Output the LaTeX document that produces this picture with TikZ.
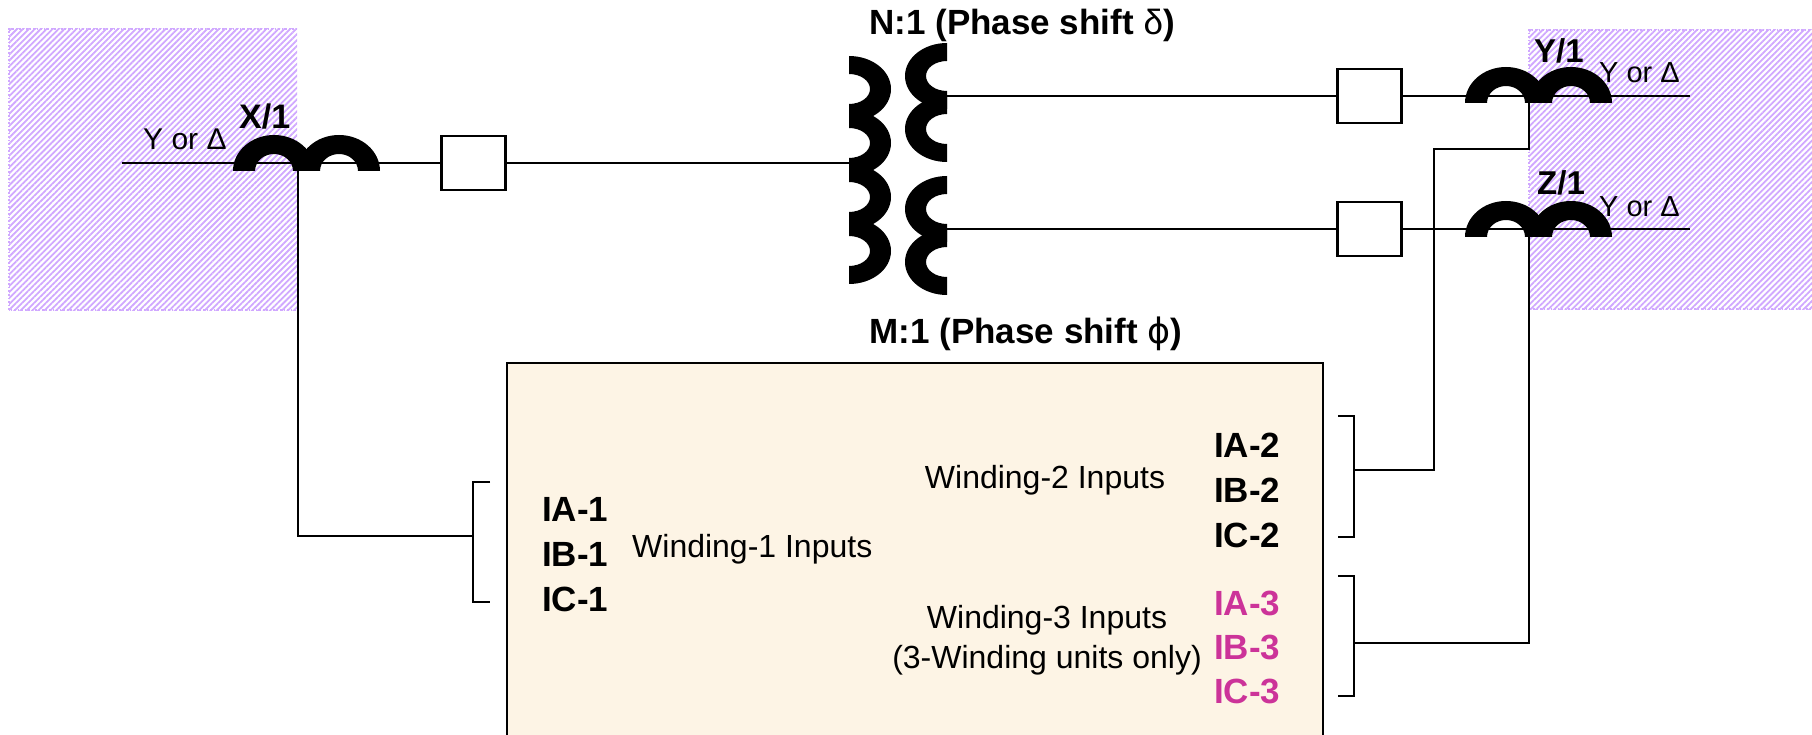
\documentclass[tikz,border=0pt]{standalone}
\usepackage{fontspec}
\setmainfont{Liberation Sans}
\newfontfamily\dejavu{DejaVu Sans}
\usetikzlibrary{patterns.meta}

\definecolor{hatchc}{RGB}{208,168,255}
\definecolor{cream}{RGB}{253,244,229}
\definecolor{mag}{RGB}{204,51,153}

\tikzset{
  wire/.style={line width=2.2pt},
  brk/.style={draw, line width=2.2pt, fill=white, minimum width=64pt, minimum height=54pt, inner sep=0pt},
  lbl/.style={inner sep=0pt, anchor=base west},
  ctlbl/.style={lbl, font=\fontsize{34}{40}\selectfont\bfseries},
  yd/.style={lbl, font=\fontsize{30}{36}\selectfont},
  inp/.style={lbl, font=\fontsize{35}{42}\selectfont\bfseries},
  wtxt/.style={inner sep=0pt, font=\fontsize{32}{38}\selectfont},
  ttl/.style={inner sep=0pt, anchor=base, font=\fontsize{35}{42}\selectfont\bfseries},
  hatch/.style={pattern={Lines[angle=45,distance=4.2pt,line width=1.8pt]}, pattern color=hatchc},
  hatchedge/.style={draw=hatchc, line width=1.5pt, dotted},
  ct/.pic={
    \foreach \c in {0,65}{
      \fill (\c-41,0) arc[start angle=180,end angle=0,x radius=41,y radius=36]
        -- (\c+19,0) arc[start angle=0,end angle=180,x radius=19,y radius=17] -- cycle;
    }
  },
  phump/.pic={
    \fill (0,33) arc[start angle=90,end angle=-90,x radius=42,y radius=33]
      -- (0,-15) arc[start angle=-90,end angle=90,x radius=21,y radius=15] -- cycle;
  },
  shump/.pic={
    \fill (0,33) arc[start angle=90,end angle=270,x radius=42,y radius=33]
      -- (0,-15) arc[start angle=270,end angle=90,x radius=21,y radius=15] -- cycle;
  }
}

\begin{document}
\begin{tikzpicture}[x=1pt,y=1pt]
\useasboundingbox (0,0) rectangle (1812,-735);
\clip (0,0) rectangle (1812,-735);

% hatched zones
\fill[hatch] (9,-29) rectangle (297,-310);
\draw[hatchedge] (297,-29) -- (9,-29) -- (9,-310) -- (297,-310);
\fill[hatch] (1529,-30) rectangle (1820,-309);
\draw[hatchedge] (1820,-30) -- (1529,-30) -- (1529,-309) -- (1820,-309);

% relay box
\node[draw, line width=2.4pt, fill=cream, anchor=north west, minimum width=816pt, minimum height=400pt, inner sep=0pt] (relay) at (506,-362) {};

% coordinates
\coordinate (lx) at (122,-163);
\coordinate (prim) at (849,-163);
\coordinate (s1) at (947,-96);
\coordinate (s2) at (947,-229);
\coordinate (ry) at (1690,-96);
\coordinate (rz) at (1690,-229);
\coordinate (ctx) at (298,-171);
\coordinate (cty) at (1529,-103);
\coordinate (ctz) at (1529,-237);
\coordinate (jy) at (1434,-149);
\coordinate (br1) at (473,-536);
\coordinate (br2) at (1354,-470);
\coordinate (br3) at (1354,-643);

% breakers
\node[brk] (b1) at (473.5,-163) {};
\node[brk] (b2) at (1369.5,-96) {};
\node[brk] (b3) at (1369.5,-229) {};

% main wires
\draw[wire] (lx) -- (b1.west);
\draw[wire] (b1.east) -- (prim);
\draw[wire] (s1) -- (b2.west);
\draw[wire] (b2.east) -- (ry);
\draw[wire] (s2) -- (b3.west);
\draw[wire] (b3.east) -- (rz);

% CT secondary wiring
\draw[wire] (ctx) |- (br1);
\draw[wire] (cty) |- (jy) |- (br2);
\draw[wire] (ctz) |- (br3);

% brackets
\draw[wire] (490,-482) -- (473,-482) -- (473,-602) -- (490,-602);
\draw[wire] (1338,-416) -- (1354,-416) -- (1354,-537) -- (1338,-537);
\draw[wire] (1338,-576) -- (1354,-576) -- (1354,-696) -- (1338,-696);

% CTs
\pic at (274,-171) {ct};
\pic at (1506,-103) {ct};
\pic at (1506,-237) {ct};

% transformer
\pic at (849,-89) {phump};
\pic at (849,-143) {phump};
\pic at (849,-197) {phump};
\pic at (849,-251) {phump};
\pic at (947,-76) {shump};
\pic at (947,-129) {shump};
\pic at (947,-209) {shump};
\pic at (947,-262) {shump};

% labels
\node[yd] (ydx) at (143,-150) {Y or Δ};
\node[ctlbl] (lx1) at (239,-129) {X/1};
\node[ctlbl, font=\fontsize{33}{40}\selectfont\bfseries] (ly1) at (1534,-63) {Y/1};
\node[ctlbl, font=\fontsize{33}{40}\selectfont\bfseries] (lz1) at (1537,-195) {Z/1};
\node[yd, font=\fontsize{29}{35}\selectfont] (ydy) at (1599,-83) {Y or Δ};
\node[yd, font=\fontsize{29}{35}\selectfont] (ydz) at (1599,-217) {Y or Δ};

\node[ttl] (tn) at (1022,-35) {N:1 (Phase shift {\mdseries δ})};
\node[ttl] (tm) at (1026,-343) {M:1 (Phase shift {\dejavu\mdseries ϕ})};

\node[inp] (ia1) at (542,-521) {IA-1};
\node[inp] (ib1) at (542,-566) {IB-1};
\node[inp] (ic1) at (542,-611) {IC-1};
\node[wtxt, anchor=base west] (w1) at (632,-557) {Winding-1 Inputs};

\node[inp] (ia2) at (1214,-457) {IA-2};
\node[inp] (ib2) at (1214,-502) {IB-2};
\node[inp] (ic2) at (1214,-547) {IC-2};
\node[inp, text=mag] (ia3) at (1214,-615) {IA-3};
\node[inp, text=mag] (ib3) at (1214,-659) {IB-3};
\node[inp, text=mag] (ic3) at (1214,-703) {IC-3};

\node[wtxt, anchor=base] (w2) at (1045,-488) {Winding-2 Inputs};
\node[wtxt, anchor=base] (w3) at (1047,-628) {Winding-3 Inputs};
\node[wtxt, anchor=base] (w3b) at (1047,-668) {(3-Winding units only)};
\end{tikzpicture}
\end{document}
